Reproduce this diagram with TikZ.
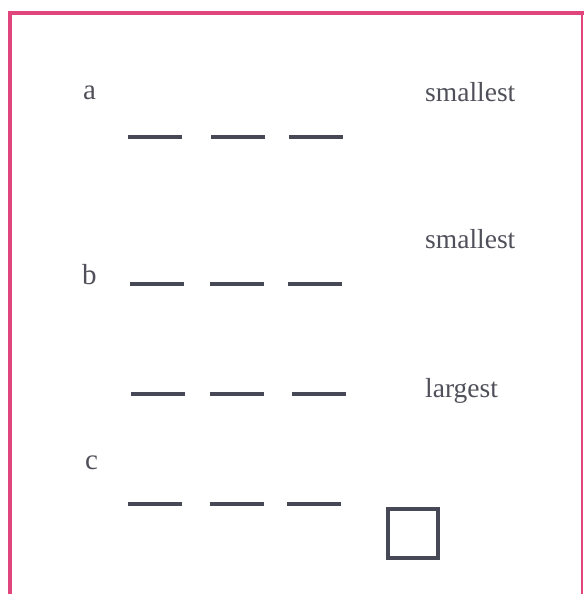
\documentclass[tikz,border=0pt]{standalone}
\usepackage{fontspec}
\setmainfont{Liberation Serif}
\definecolor{framepink}{HTML}{E0457C}
\definecolor{slate}{HTML}{464955}
\definecolor{txtgrey}{HTML}{50505A}
\begin{document}
\begin{tikzpicture}[x=1pt,y=-1pt,
  blank/.style={line width=4.5pt,draw=slate},
  lbl/.style={anchor=base west,inner sep=0pt,text=txtgrey,font=\fontsize{29}{32}\selectfont},
  word/.style={anchor=base west,inner sep=0pt,text=txtgrey,font=\fontsize{27.5}{30}\selectfont}]
\useasboundingbox (0,0) rectangle (584,594);
\fill[white] (0,0) rectangle (584,594);
% frame
\draw[framepink,line width=4pt] (10,594) -- (10,13) -- (584,13);
\draw[framepink,line width=1.8pt] (582,13) -- (582,594);
% labels
\node[lbl] (la) at (83,99) {a};
\node[lbl] (lb) at (82,284) {b};
\node[lbl] (lc) at (85,469) {c};
\node[word] (w1) at (425,101) {smallest};
\node[word] (w2) at (425,248) {smallest};
\node[word] (w3) at (425,397) {largest};
% blanks
\draw[blank] (128,137) -- (182,137);
\draw[blank] (211,137) -- (265,137);
\draw[blank] (289,137) -- (343,137);
\draw[blank] (130,284) -- (184,284);
\draw[blank] (210,284) -- (264,284);
\draw[blank] (288,284) -- (342,284);
\draw[blank] (131,394) -- (185,394);
\draw[blank] (210,394) -- (264,394);
\draw[blank] (292,394) -- (346,394);
\draw[blank] (128,504) -- (182,504);
\draw[blank] (210,504) -- (264,504);
\draw[blank] (287,504) -- (341,504);
% answer box
\node[draw=slate,line width=4pt,minimum width=50pt,minimum height=49pt,inner sep=0pt] (box) at (413,533.5) {};
\end{tikzpicture}
\end{document}
